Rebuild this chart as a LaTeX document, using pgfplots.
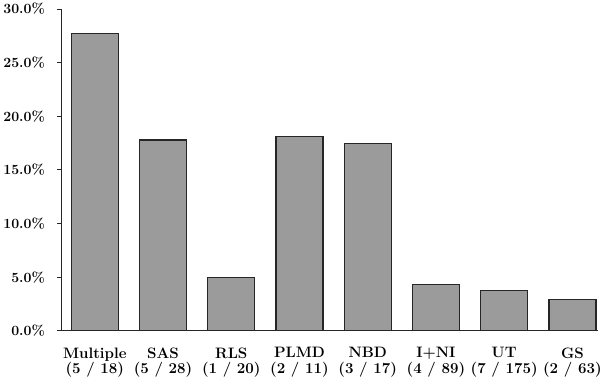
\documentclass[border=0pt]{standalone}
\usepackage{pgfplots}
\pgfplotsset{compat=1.18}
\definecolor{barfill}{RGB}{155,155,155}
\definecolor{edge}{RGB}{35,40,35}
\begin{document}
\begin{tikzpicture}
\begin{axis}[
  scale only axis,
  width=533pt, height=320pt,
  ymin=0, ymax=30,
  xmin=-0.49, xmax=7.37,
  axis lines*=left,
  axis line style={-, line width=1pt, color=edge},
  ytick={0,5,10,15,20,25,30},
  yticklabels={0.0\%,5.0\%,10.0\%,15.0\%,20.0\%,25.0\%,30.0\%},
  ytick style={line width=1pt, color=edge},
  tick align=outside,
  major tick length=4pt,
  xtick=data,
  xtick style={draw=none},
  xticklabels={{Multiple\\(5 / 18)},{SAS\\(5 / 28)},{RLS\\(1 / 20)},{PLMD\\(2 / 11)},{NBD\\(3 / 17)},{I+NI\\(4 / 89)},{UT\\(7 / 175)},{GS\\(2 / 63)}},
  xticklabel style={align=center, yshift=-9pt, font=\fontsize{15}{15}\selectfont\bfseries},
  yticklabel style={xshift=-9pt, font=\fontsize{14}{15}\selectfont\bfseries},
  /pgf/number format/assume math mode=true,
  ybar, bar width=0.69,
]
\addplot[fill=barfill, draw=edge, line width=1.3pt] coordinates {
  (0,27.7) (1,17.8) (2,5.0) (3,18.1) (4,17.5) (5,4.3) (6,3.8) (7,2.9)
};
\end{axis}
\end{tikzpicture}
\end{document}
